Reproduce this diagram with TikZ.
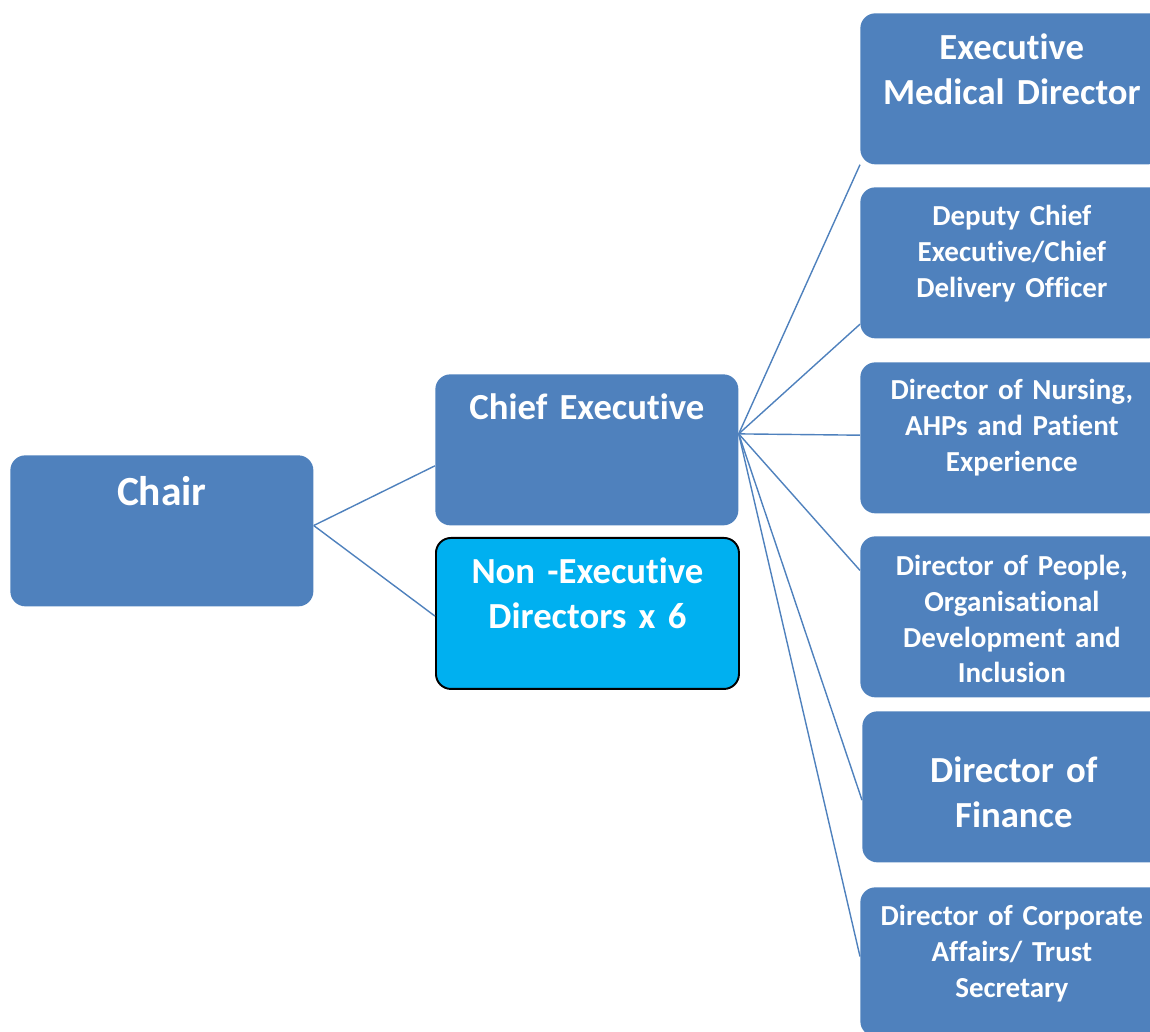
\documentclass[tikz,border=0pt]{standalone}
\usepackage{fontspec}
\setmainfont{Carlito}[Ligatures=NoCommon]
\definecolor{boardblue}{HTML}{4F81BD}
\definecolor{nedcyan}{HTML}{00B0F0}

\begin{document}
\begin{tikzpicture}[
  post/.style   ={fill=boardblue, rounded corners=3mm, anchor=north west,
                  text width=5.9cm, inner xsep=0.8mm, inner ysep=0pt,
                  align=center, text=white},
  nedpost/.style={post, fill=nedcyan, draw=black, line width=1.1pt},
  huge/.style   ={font=\fontsize{23.6}{28}\selectfont\bfseries},
  big/.style    ={font=\fontsize{20.9}{25.5}\selectfont\bfseries},
  small/.style  ={font=\fontsize{16.5}{20.4}\selectfont\bfseries},
  link/.style   ={draw=boardblue, line width=0.8pt}
]
  \useasboundingbox (0,0) rectangle (23,20.64);

  % board, left and middle columns
  \node[post, huge, text height=1.0cm, text depth=2.02cm]  (chair) at (0.2,11.54)
    {Chair};
  \node[post, big, text height=0.9cm, text depth=2.12cm]   (ceo)   at (8.7,13.16)
    {Chief Executive};
  \node[nedpost, big, text height=0.92cm, text depth=2.1cm] (ned)  at (8.7,9.9)
    {Non -Executive\\Directors x 6};

  % executive directors, right column
  \node[post, big, text height=0.92cm, text depth=2.1cm]    (emd)   at (17.2,20.38)
    {Executive\\Medical Director};
  \node[post, small, text height=0.76cm, text depth=2.26cm] (dce)   at (17.2,16.9)
    {Deputy Chief\\Executive/Chief\\Delivery Officer};
  \node[post, small, text height=0.74cm, text depth=2.28cm] (dnur)  at (17.2,13.4)
    {Director of Nursing,\\AHPs and Patient\\Experience};
  \node[post, small, text height=0.78cm, text depth=2.44cm] (dpeo)  at (17.2,9.92)
    {Director of People,\\Organisational\\Development and\\Inclusion};
  \node[post, big, text height=1.42cm, text depth=1.6cm]    (dfin)  at (17.24,6.42)
    {Director of\\Finance};
  \node[post, small, text height=0.76cm, text depth=2.22cm] (dcorp) at (17.2,2.9)
    {Director of Corporate\\Affairs/ Trust\\Secretary};

  \coordinate (hub) at (ceo.6);

  \draw[link] (chair.2) -- (ceo.186);
  \draw[link] (chair.2) -- (ned.181);
  \draw[link] (hub) -- (emd.south west);
  \draw[link] (hub) -- (dce.202);
  \draw[link] (hub) -- (dnur.179);
  \draw[link] (hub) -- (dpeo.163);
  \draw[link] (hub) -- (dfin.185);
  \draw[link] (hub) -- (dcorp.178);
\end{tikzpicture}
\end{document}
